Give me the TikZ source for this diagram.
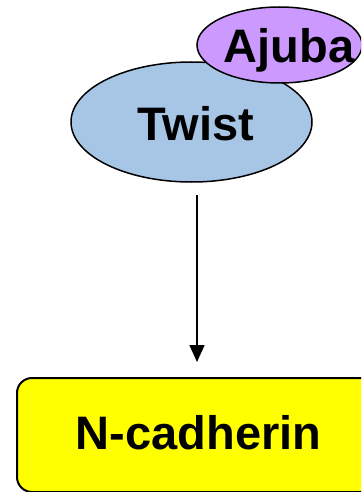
\documentclass[tikz,border=0pt]{standalone}
\usepackage{fontspec}
\setmainfont{Liberation Sans}
\usetikzlibrary{shapes.geometric,arrows.meta}
\definecolor{twistblue}{HTML}{A7C6E6}
\definecolor{ajubaviolet}{HTML}{CC99FF}
\definecolor{cadyellow}{HTML}{FFFF00}
\begin{document}
\begin{tikzpicture}[x=1pt,y=-1pt,
  lbl/.style={font=\fontsize{47}{56}\selectfont\bfseries, inner sep=0pt},
  blob/.style={ellipse, draw=black, line width=1.5pt, inner sep=0pt},
  target/.style={rectangle, rounded corners=15pt, draw=black, line width=2pt, fill=cadyellow, lbl},
  link/.style={line width=1.5pt, -{Triangle[width=15pt,length=17pt]}}]
  \clip (0,0) rectangle (361,492);
  \useasboundingbox (0,0) rectangle (361,492);
  % Twist with its partner Ajuba sitting on top of it
  \node[blob, fill=twistblue, minimum width=241pt, minimum height=120pt] (twist) at (191.5,122) {};
  \node[lbl, text height=38pt, text depth=2pt] (twisttext) at (196,122) {Twist};
  \node[blob, fill=ajubaviolet, minimum width=165pt, minimum height=76pt] (ajuba) at (279.5,45) {};
  \node[lbl, text height=40pt, text depth=4pt] (ajubatext) at (289,45) {Ajuba};
  % target gene
  \node[target, minimum width=358pt, minimum height=114pt,
        text height=34pt, text depth=6pt] (ncad) at (196,435) {\hspace*{5pt}N-cadherin};
  % activation arrow
  \coordinate (src) at (197,195);
  \coordinate (dst) at (197,362);
  \draw[link] (src) -- (dst);
\end{tikzpicture}
\end{document}
